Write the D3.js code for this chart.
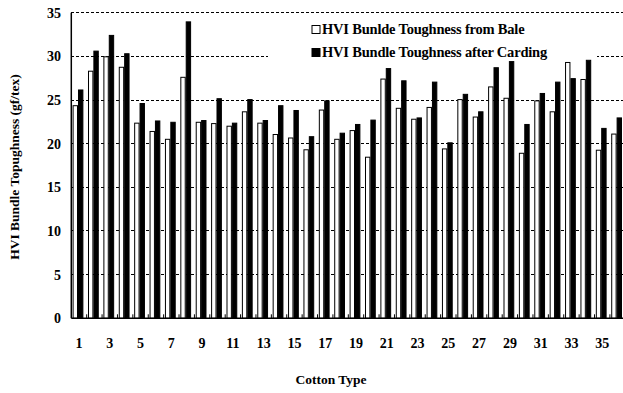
<!DOCTYPE html>
<html>
<head>
<meta charset="utf-8">
<script src="https://cdn.jsdelivr.net/npm/d3@7"></script>
<style>
  body { margin: 0; background: #fff; }
  text { font-family: "Liberation Serif", "Times New Roman", serif; font-weight: bold; }
</style>
</head>
<body>
<script>
(function(){

//chart data
var cottonTypes = d3.range(1, 37);
var seriesNames = ["HVI Bunlde Toughness from Bale", "HVI Bundle Toughness after Carding"];
var baleValues = [24.35, 28.3, 29.95, 28.75, 22.35, 21.4, 20.5, 27.6, 22.45, 22.3,
                  22.0, 23.65, 22.35, 21.05, 20.65, 19.3, 23.85, 20.5, 21.5, 18.45,
                  27.4, 24.05, 22.8, 24.15, 19.4, 25.05, 23.05, 26.5, 25.2, 18.9,
                  24.9, 23.65, 29.3, 27.35, 19.25, 21.1];
var cardValues = [26.15, 30.6, 32.4, 30.3, 24.6, 22.6, 22.45, 33.95, 22.65, 25.15,
                  22.35, 25.05, 22.65, 24.35, 23.8, 20.8, 24.9, 21.2, 22.2, 22.7,
                  28.6, 27.2, 22.95, 27.05, 20.1, 25.65, 23.65, 28.7, 29.4, 22.2,
                  25.75, 27.05, 27.45, 29.55, 21.75, 22.95];
var yTicks = [0, 5, 10, 15, 20, 25, 30, 35];
var xTickLabels = cottonTypes.filter(function(d){ return d % 2 == 1; });

var width = 623,
    height = 393;

var svg = d3.select("body")
    .append("svg")
    .attr("width", width)
    .attr("height", height);

//scales
var x = d3.scaleBand()
    .domain(cottonTypes)
    .range([71.3, 625.3])
    .padding(0);

var xInner = d3.scaleBand()
    .domain([0, 1])
    .range([x.bandwidth() * 0.15 - 1, x.bandwidth() * 0.85 - 1]);

var y = d3.scaleLinear()
    .domain([0, 35])
    .range([318.3, 12.7]);

//dotted gridlines
svg.append("g")
    .selectAll("line")
    .data(yTicks.filter(function(d){ return d > 0; }))
    .enter()
    .append("line")
    .attr("x1", x.range()[0])
    .attr("x2", width)
    .attr("y1", function(d){ return y(d); })
    .attr("y2", function(d){ return y(d); })
    .attr("stroke", "#000")
    .attr("stroke-width", 1)
    .attr("stroke-dasharray", "3,2")
    .attr("shape-rendering", "crispEdges");

//legend background hides part of the 30 gridline
var legend = svg.append("g");
legend.append("rect")
    .attr("x", 268)
    .attr("y", 16)
    .attr("width", 329)
    .attr("height", 46)
    .attr("fill", "#fff");

//bars
var rows = cottonTypes.map(function(c, i){
    return { type: c, values: [baleValues[i], cardValues[i]] };
});

var groups = svg.append("g")
    .selectAll("g")
    .data(rows)
    .enter()
    .append("g")
    .attr("transform", function(d){ return "translate(" + x(d.type) + ",0)"; });

groups.selectAll("rect")
    .data(function(d){ return d.values.map(function(v, k){ return { k: k, v: v }; }); })
    .enter()
    .append("rect")
    .attr("x", function(d){ return xInner(d.k) + 0.5; })
    .attr("y", function(d){ return y(d.v); })
    .attr("width", xInner.bandwidth() - 1)
    .attr("height", function(d){ return y(0) - y(d.v); })
    .attr("fill", function(d){ return d.k == 0 ? "#fff" : "#000"; })
    .attr("stroke", "#000")
    .attr("stroke-width", 1);

//x axis with small inward ticks at category boundaries
svg.append("g")
    .selectAll("line")
    .data(cottonTypes.slice(1))
    .enter()
    .append("line")
    .attr("x1", function(d){ return x(d); })
    .attr("x2", function(d){ return x(d); })
    .attr("y1", y(0))
    .attr("y2", y(0) - 4)
    .attr("stroke", "#000")
    .attr("stroke-width", 1);

svg.append("line")
    .attr("x1", x.range()[0])
    .attr("x2", width)
    .attr("y1", y(0))
    .attr("y2", y(0))
    .attr("stroke", "#000")
    .attr("stroke-width", 1.5);

svg.append("line")
    .attr("x1", x.range()[0])
    .attr("x2", x.range()[0])
    .attr("y1", y(35))
    .attr("y2", y(0))
    .attr("stroke", "#000")
    .attr("stroke-width", 1.5);

//tick labels
svg.append("g")
    .selectAll("text")
    .data(yTicks)
    .enter()
    .append("text")
    .attr("x", 61)
    .attr("y", function(d){ return y(d) + 5; })
    .attr("text-anchor", "end")
    .attr("font-size", 14)
    .text(function(d){ return d; });

svg.append("g")
    .selectAll("text")
    .data(xTickLabels)
    .enter()
    .append("text")
    .attr("x", function(d){ return x(d) + x.bandwidth() / 2; })
    .attr("y", 348)
    .attr("text-anchor", "middle")
    .attr("font-size", 14)
    .text(function(d){ return d; });

//axis titles
svg.append("text")
    .attr("x", 331)
    .attr("y", 384)
    .attr("text-anchor", "middle")
    .attr("font-size", 13.5)
    .text("Cotton Type");

svg.append("text")
    .attr("transform", "translate(19,167) rotate(-90)")
    .attr("text-anchor", "middle")
    .attr("font-size", 13.5)
    .text("HVI Bundle Topughness (gf/tex)");

//legend entries
seriesNames.forEach(function(name, i){
    var ly = 34 + i * 23;
    legend.append("rect")
        .attr("x", 312)
        .attr("y", ly - 8.5)
        .attr("width", 8)
        .attr("height", 8)
        .attr("fill", i == 0 ? "#fff" : "#000")
        .attr("stroke", "#000")
        .attr("stroke-width", 1);
    legend.append("text")
        .attr("x", 322)
        .attr("y", ly)
        .attr("font-size", 14.5)
        .attr("letter-spacing", -0.2)
        .text(name);
});

})();
</script>
</body>
</html>
